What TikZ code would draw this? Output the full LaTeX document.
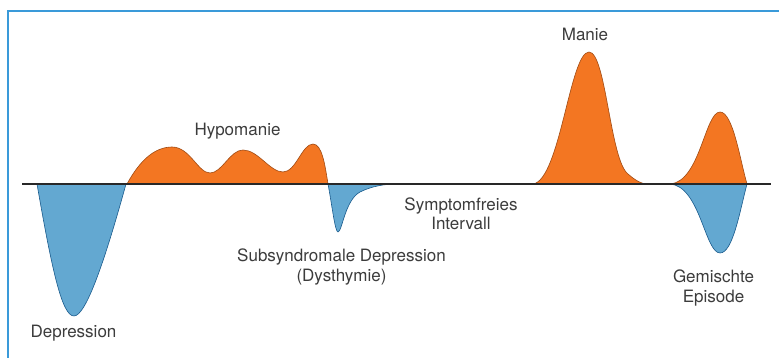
\documentclass[tikz,border=0pt]{standalone}
\usepackage{fontspec}
\setmainfont{TeX Gyre Heros}
\definecolor{orangefill}{RGB}{243,118,34}
\definecolor{orangeline}{RGB}{160,75,20}
\definecolor{bluefill}{RGB}{99,168,209}
\definecolor{blueline}{RGB}{25,90,140}
\definecolor{framecol}{RGB}{58,154,217}
\definecolor{axiscol}{RGB}{40,40,40}
\definecolor{textcol}{RGB}{60,60,60}
\tikzset{
  mania/.style={fill=orangefill, draw=orangeline, line width=0.6pt},
  depr/.style={fill=bluefill, draw=blueline, line width=0.6pt},
  lbl/.style={text=textcol, font=\fontsize{17}{19.5}\selectfont, align=center, inner sep=0pt},
  frameline/.style={draw=framecol, line width=2pt},
  axisline/.style={draw=axiscol, line width=1.8pt}
}
\begin{document}
\begin{tikzpicture}[x=1pt,y=-1pt]
\useasboundingbox (0,0) rectangle (779,358);
\fill[white] (0,0) rectangle (779,358);
% frame
\draw[frameline] (7.5,360) -- (7.5,11) -- (781,11);
% Depression
\draw[depr] (37,184) .. controls (52,270) and (62,316) .. (74,316)
  .. controls (86,316) and (105,260) .. (126,184) -- cycle;
% Hypomanie
\draw[mania] (127,184) .. controls (140,160) and (155,147) .. (172,147)
  .. controls (190,147) and (198,173) .. (210,173)
  .. controls (222,173) and (230,150) .. (243,150)
  .. controls (258,150) and (270,172) .. (283,172)
  .. controls (296,172) and (302,144) .. (313,144)
  .. controls (322,144) and (325,165) .. (328,184) -- cycle;
% Subsyndromale Depression
\draw[depr] (328,184) .. controls (332,205) and (335,232) .. (338,232)
  .. controls (342,232) and (345,200) .. (360,192)
  .. controls (372,186) and (385,184) .. (397,184) -- cycle;
% Manie
\draw[mania] (533,184) .. controls (560,180) and (570,52) .. (589,52)
  .. controls (606,52) and (610,160) .. (628,174)
  .. controls (636,181) and (642,184) .. (647,184) -- cycle;
% Gemischte Episode
\draw[mania] (670,184) .. controls (700,182) and (705,112) .. (720,112)
  .. controls (733,112) and (740,160) .. (747,184) -- cycle;
\draw[depr] (670,184) .. controls (700,186) and (705,253) .. (720,253)
  .. controls (733,253) and (740,210) .. (747,184) -- cycle;
% axis
\coordinate (axL) at (22,184);
\coordinate (axR) at (771,184);
\draw[axisline] (axL) -- (axR);
% labels
\node[lbl] (hypo) at (237.5,131) {Hypomanie};
\node[lbl] (manie) at (585,34) {Manie};
\node[lbl] (depr) at (73.5,333) {Depression};
\node[lbl] (subs) at (341.5,267) {Subsyndromale Depression\\(Dysthymie)};
\node[lbl] (sfi) at (461,214) {Symptomfreies\\Intervall};
\node[lbl] (gem) at (713.5,288) {Gemischte\\Episode};
\end{tikzpicture}
\end{document}
